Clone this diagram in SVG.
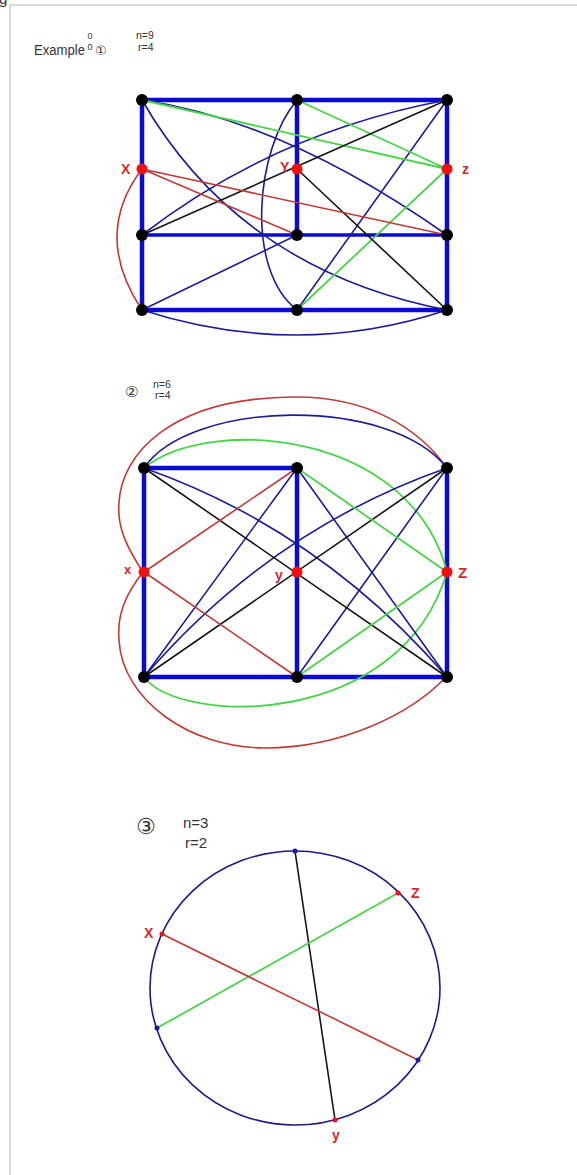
<svg xmlns="http://www.w3.org/2000/svg" width="577" height="1175" viewBox="0 0 577 1175">
<style>
.thick{stroke:#0a0ad2;stroke-width:4.5;fill:none;stroke-linecap:round}
.mid{stroke:#0a0ad2;stroke-width:3.5;fill:none}
.b{stroke:#1c1c9a;stroke-width:1.6;fill:none}
.g{stroke:#48d448;stroke-width:1.8;fill:none}
.r{stroke:#c23a35;stroke-width:1.6;fill:none}
.k{stroke:#151515;stroke-width:1.6;fill:none}
.nk{fill:#000}
.nr{fill:#ee1111}
.nb{fill:#1a1aa0}
.lbl{font-family:"Liberation Sans",Arial,sans-serif;font-weight:bold;fill:#d42a2a}
.hd{font-family:"Liberation Sans","DejaVu Sans","Noto Sans CJK SC",sans-serif;fill:#333}
</style>
<rect width="577" height="1175" fill="#fff"/>
<g id="frame">
<line x1="10" y1="5" x2="577" y2="5" stroke="#b4b4b4" stroke-width="1"/>
<line x1="10" y1="5" x2="10" y2="1175" stroke="#b4b4b4" stroke-width="1"/>
<text x="-1" y="4" class="hd" font-size="15">g</text>
</g>

<g id="header1" class="hd">
<text x="34" y="55" font-size="14" textLength="51" lengthAdjust="spacingAndGlyphs">Example</text>
<text x="87.5" y="39" font-size="9">0</text>
<text x="87.5" y="50" font-size="9">0</text>
<text x="95" y="55" font-size="13">①</text>
<text x="136" y="39" font-size="10.5">n=9</text>
<text x="138" y="51" font-size="10.5">r=4</text>
</g>

<g id="connectors1">
<path class="thick" d="M142,100 H447 M142,100 V310 M447,100 V310 M142,310 H447 M297,100 V235"/>
<path class="mid" d="M142,235 H447"/>
<path class="b" d="M142,100 Q285,121 447,235"/>
<path class="b" d="M142,100 Q240,270 447,310"/>
<path class="b" d="M142,235 Q275,132 447,100"/>
<path class="b" d="M297,100 C255,150 245,270 297,310"/>
<path class="b" d="M447,100 L297,310"/>
<path class="b" d="M142,310 L297,235"/>
<path class="b" d="M142,310 Q297,360 447,310"/>
<path class="g" d="M142,100 L447,169 M297,100 L447,169 M297,310 L447,169"/>
<path class="k" d="M142,235 L447,100 M297,169 L447,310"/>
<path class="r" d="M142,169 L447,235 M142,169 L297,235"/>
<path class="r" d="M142,169 Q92,235 142,310"/>
</g>
<g id="nodes1">
<circle id="n1-tl" class="nk" cx="142" cy="100" r="6"/>
<circle id="n1-tm" class="nk" cx="297" cy="100" r="6"/>
<circle id="n1-tr" class="nk" cx="447" cy="100" r="6"/>
<circle id="n1-ml" class="nk" cx="142" cy="235" r="6"/>
<circle id="n1-mm" class="nk" cx="297" cy="235" r="6"/>
<circle id="n1-mr" class="nk" cx="447" cy="235" r="6"/>
<circle id="n1-bl" class="nk" cx="142" cy="310" r="6"/>
<circle id="n1-bm" class="nk" cx="297" cy="310" r="6"/>
<circle id="n1-br" class="nk" cx="447" cy="310" r="6"/>
<g id="n1-x"><circle class="nr" cx="142" cy="169" r="5.5"/><text class="lbl" x="121" y="174" font-size="14">X</text></g>
<g id="n1-y"><circle class="nr" cx="297" cy="169" r="5.5"/><text class="lbl" x="280" y="172" font-size="14">Y</text></g>
<g id="n1-z"><circle class="nr" cx="447" cy="169" r="5.5"/><text class="lbl" x="462" y="174" font-size="14">z</text></g>
</g>

<g id="header2" class="hd">
<text x="125" y="397" font-size="15">②</text>
<text x="153" y="388" font-size="10.5">n=6</text>
<text x="155" y="399" font-size="10.5">r=4</text>
</g>

<g id="connectors2">
<path class="thick" d="M144,468 H297 M144,468 V677 M297,468 V677 M447,468 V677 M144,677 H447"/>
<path class="r" d="M143,572 C125,545 117,525 119,503 C121,455 170,398 293,397 C370,396 420,430 447,468"/>
<path class="r" d="M143,572 C125,595 117,615 119,640 C122,700 190,748 265,748 C340,748 410,715 446,677"/>
<path class="b" d="M144,468 C190,400 390,395 447,468"/>
<path class="g" d="M144,468 C210,415 410,430 447,572"/>
<path class="g" d="M144,677 C180,725 400,730 447,572"/>
<path class="b" d="M144,468 Q320,530 447,677"/>
<path class="b" d="M144,677 Q270,530 447,468"/>
<path class="b" d="M297,468 L144,677 M297,468 L447,677 M447,468 L297,677"/>
<path class="k" d="M144,468 L447,677 M144,677 L447,468"/>
<path class="r" d="M144,572 L297,468 M144,572 L297,677"/>
<path class="g" d="M297,468 L447,572 M297,677 L447,572"/>
</g>
<g id="nodes2">
<circle id="n2-tl" class="nk" cx="144" cy="468" r="6"/>
<circle id="n2-tm" class="nk" cx="297" cy="468" r="6"/>
<circle id="n2-tr" class="nk" cx="447" cy="468" r="6"/>
<circle id="n2-bl" class="nk" cx="144" cy="677" r="6"/>
<circle id="n2-bm" class="nk" cx="297" cy="677" r="6"/>
<circle id="n2-br" class="nk" cx="447" cy="677" r="6"/>
<g id="n2-x"><circle class="nr" cx="144" cy="572" r="5.5"/><text class="lbl" x="124" y="574" font-size="13">x</text></g>
<g id="n2-y"><circle class="nr" cx="297" cy="572" r="5.5"/><text class="lbl" x="275" y="580" font-size="14">y</text></g>
<g id="n2-z"><circle class="nr" cx="447" cy="572" r="5.5"/><text class="lbl" x="458" y="578" font-size="15">Z</text></g>
</g>

<g id="header3" class="hd">
<text x="136" y="834" font-size="22">③</text>
<text x="183" y="828" font-size="15">n=3</text>
<text x="185" y="848" font-size="15">r=2</text>
</g>

<g id="connectors3">
<ellipse cx="295" cy="988" rx="145" ry="137" fill="none" stroke="#1c1c8c" stroke-width="1.6"/>
<path class="k" d="M295,851 L335,1120"/>
<path class="g" d="M157,1028 L398,893"/>
<path class="r" d="M162,934 L418,1060"/>
</g>
<g id="nodes3">
<circle id="n3-top" class="nb" cx="295" cy="851" r="2.5"/>
<circle id="n3-left" class="nb" cx="157" cy="1028" r="2.5"/>
<circle id="n3-right" class="nb" cx="418" cy="1060" r="2.5"/>
<g id="n3-x"><circle class="nr" cx="162" cy="934" r="2.5"/><text class="lbl" x="144" y="938" font-size="14">X</text></g>
<g id="n3-z"><circle class="nr" cx="398" cy="893" r="2.5"/><text class="lbl" x="411" y="898" font-size="14">Z</text></g>
<g id="n3-y"><circle class="nr" cx="335" cy="1120" r="2.5"/><text class="lbl" x="332" y="1140" font-size="14">y</text></g>
</g>
</svg>
